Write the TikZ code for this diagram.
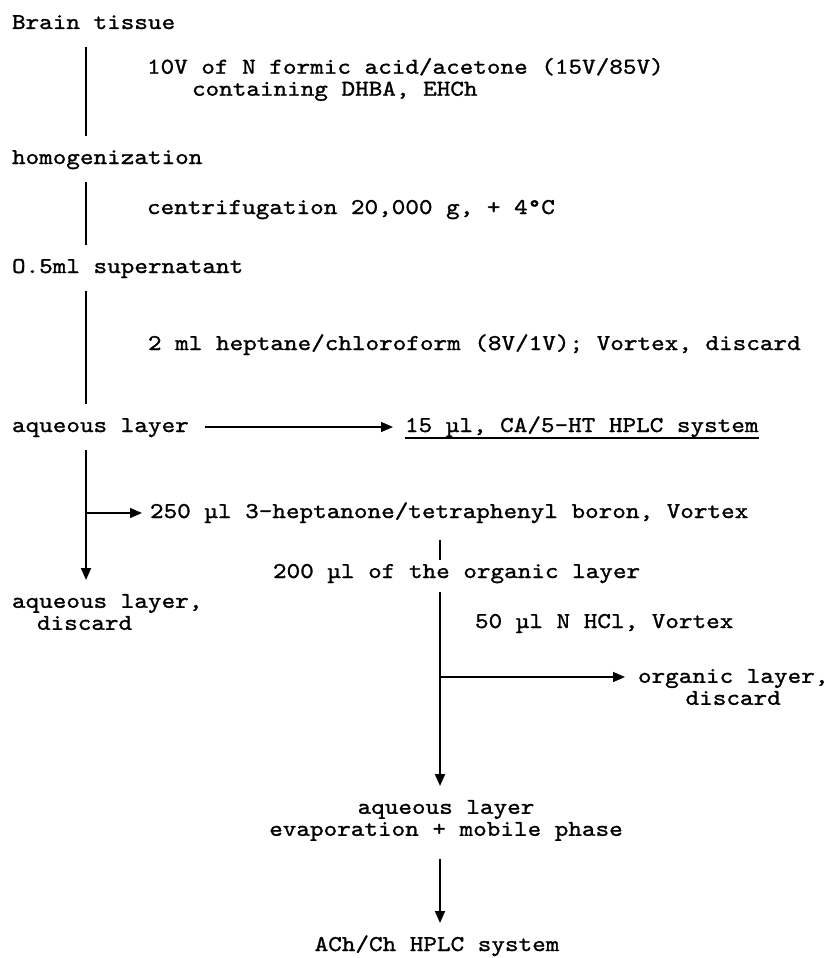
\documentclass[tikz,border=0pt]{standalone}
\usepackage{fontspec}
\usepackage{tikz}
\usetikzlibrary{arrows.meta}
\newfontfamily\flowfont{lmmono10-regular.otf}[FakeStretch=1.146, RawFeature={embolden=1.2}]

\tikzset{
  stage/.style={font={\flowfont\fontsize{22.6}{22}\selectfont}, inner sep=0pt, outer sep=0pt,
    text height=14pt, text depth=4pt, anchor=base west},
  block/.style={font={\flowfont\fontsize{22.6}{22}\selectfont}, inner sep=0pt, outer sep=0pt},
  link/.style={line width=1.9pt, shorten <=14pt, shorten >=14pt},
  feed/.style={line width=1.3pt, -{Triangle[length=12pt,width=10pt]}},
  tip/.style={-{Triangle[length=12pt,width=10pt]}},
}

\begin{document}
\begin{tikzpicture}[x=1pt, y=-1pt]
    \useasboundingbox (0,0) rectangle (828,958);
    \coordinate (spine) at (86,0);
    \coordinate (spineB) at (440,0);

    % main line
    \node[stage] (brain) at (12,29) {Brain tissue};
    \node[block, anchor=north west, align=left] (solvent) at (147,58)
        {10V of N formic acid/acetone (15V/85V)\\\hspace*{45pt}containing DHBA, EHCh};
    \node[stage] (homog) at (12,164) {homogenization};
    \node[stage] (spin) at (147,214) {centrifugation 20,000 g, + 4°C};
    \node[stage] (super) at (12,273) {O.5ml supernatant};
    \node[stage] (wash) at (148,350) {2 ml heptane/chloroform (8V/1V); Vortex, discard};
    \node[stage] (aqA) at (12,432) {aqueous layer};
    \node[stage] (hplcA) at (405,432) {15 µl, CA/5-HT HPLC system};

    % extraction
    \node[stage] (extract) at (150,518) {250 µl 3-heptanone/tetraphenyl boron, Vortex};
    \node[stage] (organic) at (273,578) {200 µl of the organic layer};
    \node[block, anchor=north west, align=left] (wasteA) at (12,594)
        {aqueous layer,\\\hspace*{25pt}discard};
    \node[stage] (backex) at (475,628) {50 µl N HCl, Vortex};
    \node[block, anchor=north west, align=center] (wasteB) at (638,669)
        {organic layer,\\discard};
    \node[block, anchor=north, align=center] (aqB) at (446,800)
        {aqueous layer\\evaporation + mobile phase};
    \node[stage, anchor=base] (hplcB) at (437,951) {ACh/Ch HPLC system};

    \draw[link] (brain.south -| spine) -- (homog.north -| spine);
    \draw[link] (homog.south -| spine) -- (super.north -| spine);
    \draw[link] (super.south -| spine) -- (aqA.north -| spine);
    \draw[feed, shorten <=16pt, shorten >=12pt] (aqA.east) -- (hplcA.west);
    \draw[line width=1.2pt] ([yshift=-2pt]hplcA.south west) -- ([yshift=-2pt]hplcA.south east);
    \draw[link, tip] (aqA.south -| spine) -- (wasteA.north -| spine);
    \draw[feed, shorten >=8pt] (extract.west -| spine) -- (extract.west);
    \draw[link, shorten <=18pt, shorten >=4pt] (extract.south -| spineB) -- (organic.north -| spineB);
    \draw[link, tip, shorten <=10pt] (organic.south -| spineB) -- (aqB.north -| spineB);
    \coordinate (forkB) at (440,677);
    \draw[feed, shorten >=13pt] (forkB) -- (forkB -| wasteB.west);
    \draw[link, tip, shorten <=18pt] (aqB.south -| spineB) -- (hplcB.north -| spineB);
\end{tikzpicture}
\end{document}
